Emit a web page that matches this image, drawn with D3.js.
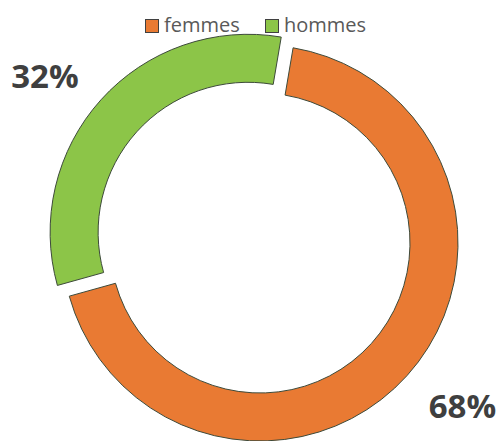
<!DOCTYPE html>
<html>
<head>
<meta charset="utf-8">
<script src="https://cdn.jsdelivr.net/npm/d3@7"></script>
<style>
  html, body { margin: 0; padding: 0; background: #fff; }
  svg { display: block; }
</style>
</head>
<body>
<svg id="chart" width="500" height="441"></svg>
<script>
const categories = ["femmes", "hommes"];
const values = [68, 32];
const valueLabels = ["68%", "32%"];
const colors = ["#E97A33", "#8CC548"];

const W = 500, H = 441;
const cx = 260, cy = 243;
const outerR = 198, innerR = 150;
const explode = [0, 16];
const startAngle = 0.168;

const svg = d3.select("#chart");

const pie = d3.pie().sort(null).value(d => d.value)
  .startAngle(startAngle).endAngle(startAngle + 2 * Math.PI);
const data = categories.map((c, i) => ({ cat: c, value: values[i], label: valueLabels[i], color: colors[i], ex: explode[i] }));
const arcs = pie(data);

const arc = d3.arc().innerRadius(innerR).outerRadius(outerR);

const g = svg.append("g").attr("transform", `translate(${cx},${cy})`);

g.selectAll("path.slice")
  .data(arcs)
  .join("path")
  .attr("class", "slice")
  .attr("transform", d => {
    const a = (d.startAngle + d.endAngle) / 2;
    return `translate(${Math.sin(a) * d.data.ex},${-Math.cos(a) * d.data.ex})`;
  })
  .attr("d", arc)
  .attr("fill", d => d.data.color)
  .attr("stroke", "#3d4a3a")
  .attr("stroke-width", 1);

// value labels
const labelPos = [{ r: 260, da: -0.055 }, { r: 272, da: -0.075 }];
g.selectAll("text.val")
  .data(arcs)
  .join("text")
  .attr("class", "val")
  .attr("x", (d, i) => Math.sin((d.startAngle + d.endAngle) / 2 + labelPos[i].da) * labelPos[i].r)
  .attr("y", (d, i) => -Math.cos((d.startAngle + d.endAngle) / 2 + labelPos[i].da) * labelPos[i].r)
  .attr("dy", "0.36em")
  .attr("text-anchor", "middle")
  .attr("font-family", "'Open Sans', sans-serif")
  .attr("font-weight", "bold")
  .attr("font-size", 33)
  .attr("fill", "#3f3f3f")
  .text(d => d.data.label);

// legend
const legend = svg.append("g").attr("transform", "translate(145,19)");
const xs = [0, 120];
const items = legend.selectAll("g.item").data(data).join("g")
  .attr("class", "item")
  .attr("transform", (d, i) => `translate(${xs[i]},0)`);
items.append("rect")
  .attr("x", 0.5).attr("y", 0.5)
  .attr("width", 13).attr("height", 13)
  .attr("fill", d => d.color)
  .attr("stroke", "#404040").attr("stroke-width", 1);
items.append("text")
  .attr("x", 19).attr("y", 13)
  .attr("font-family", "'Open Sans', sans-serif")
  .attr("font-size", 20)
  .attr("fill", "#595959")
  .text(d => d.cat);
</script>
</body>
</html>
